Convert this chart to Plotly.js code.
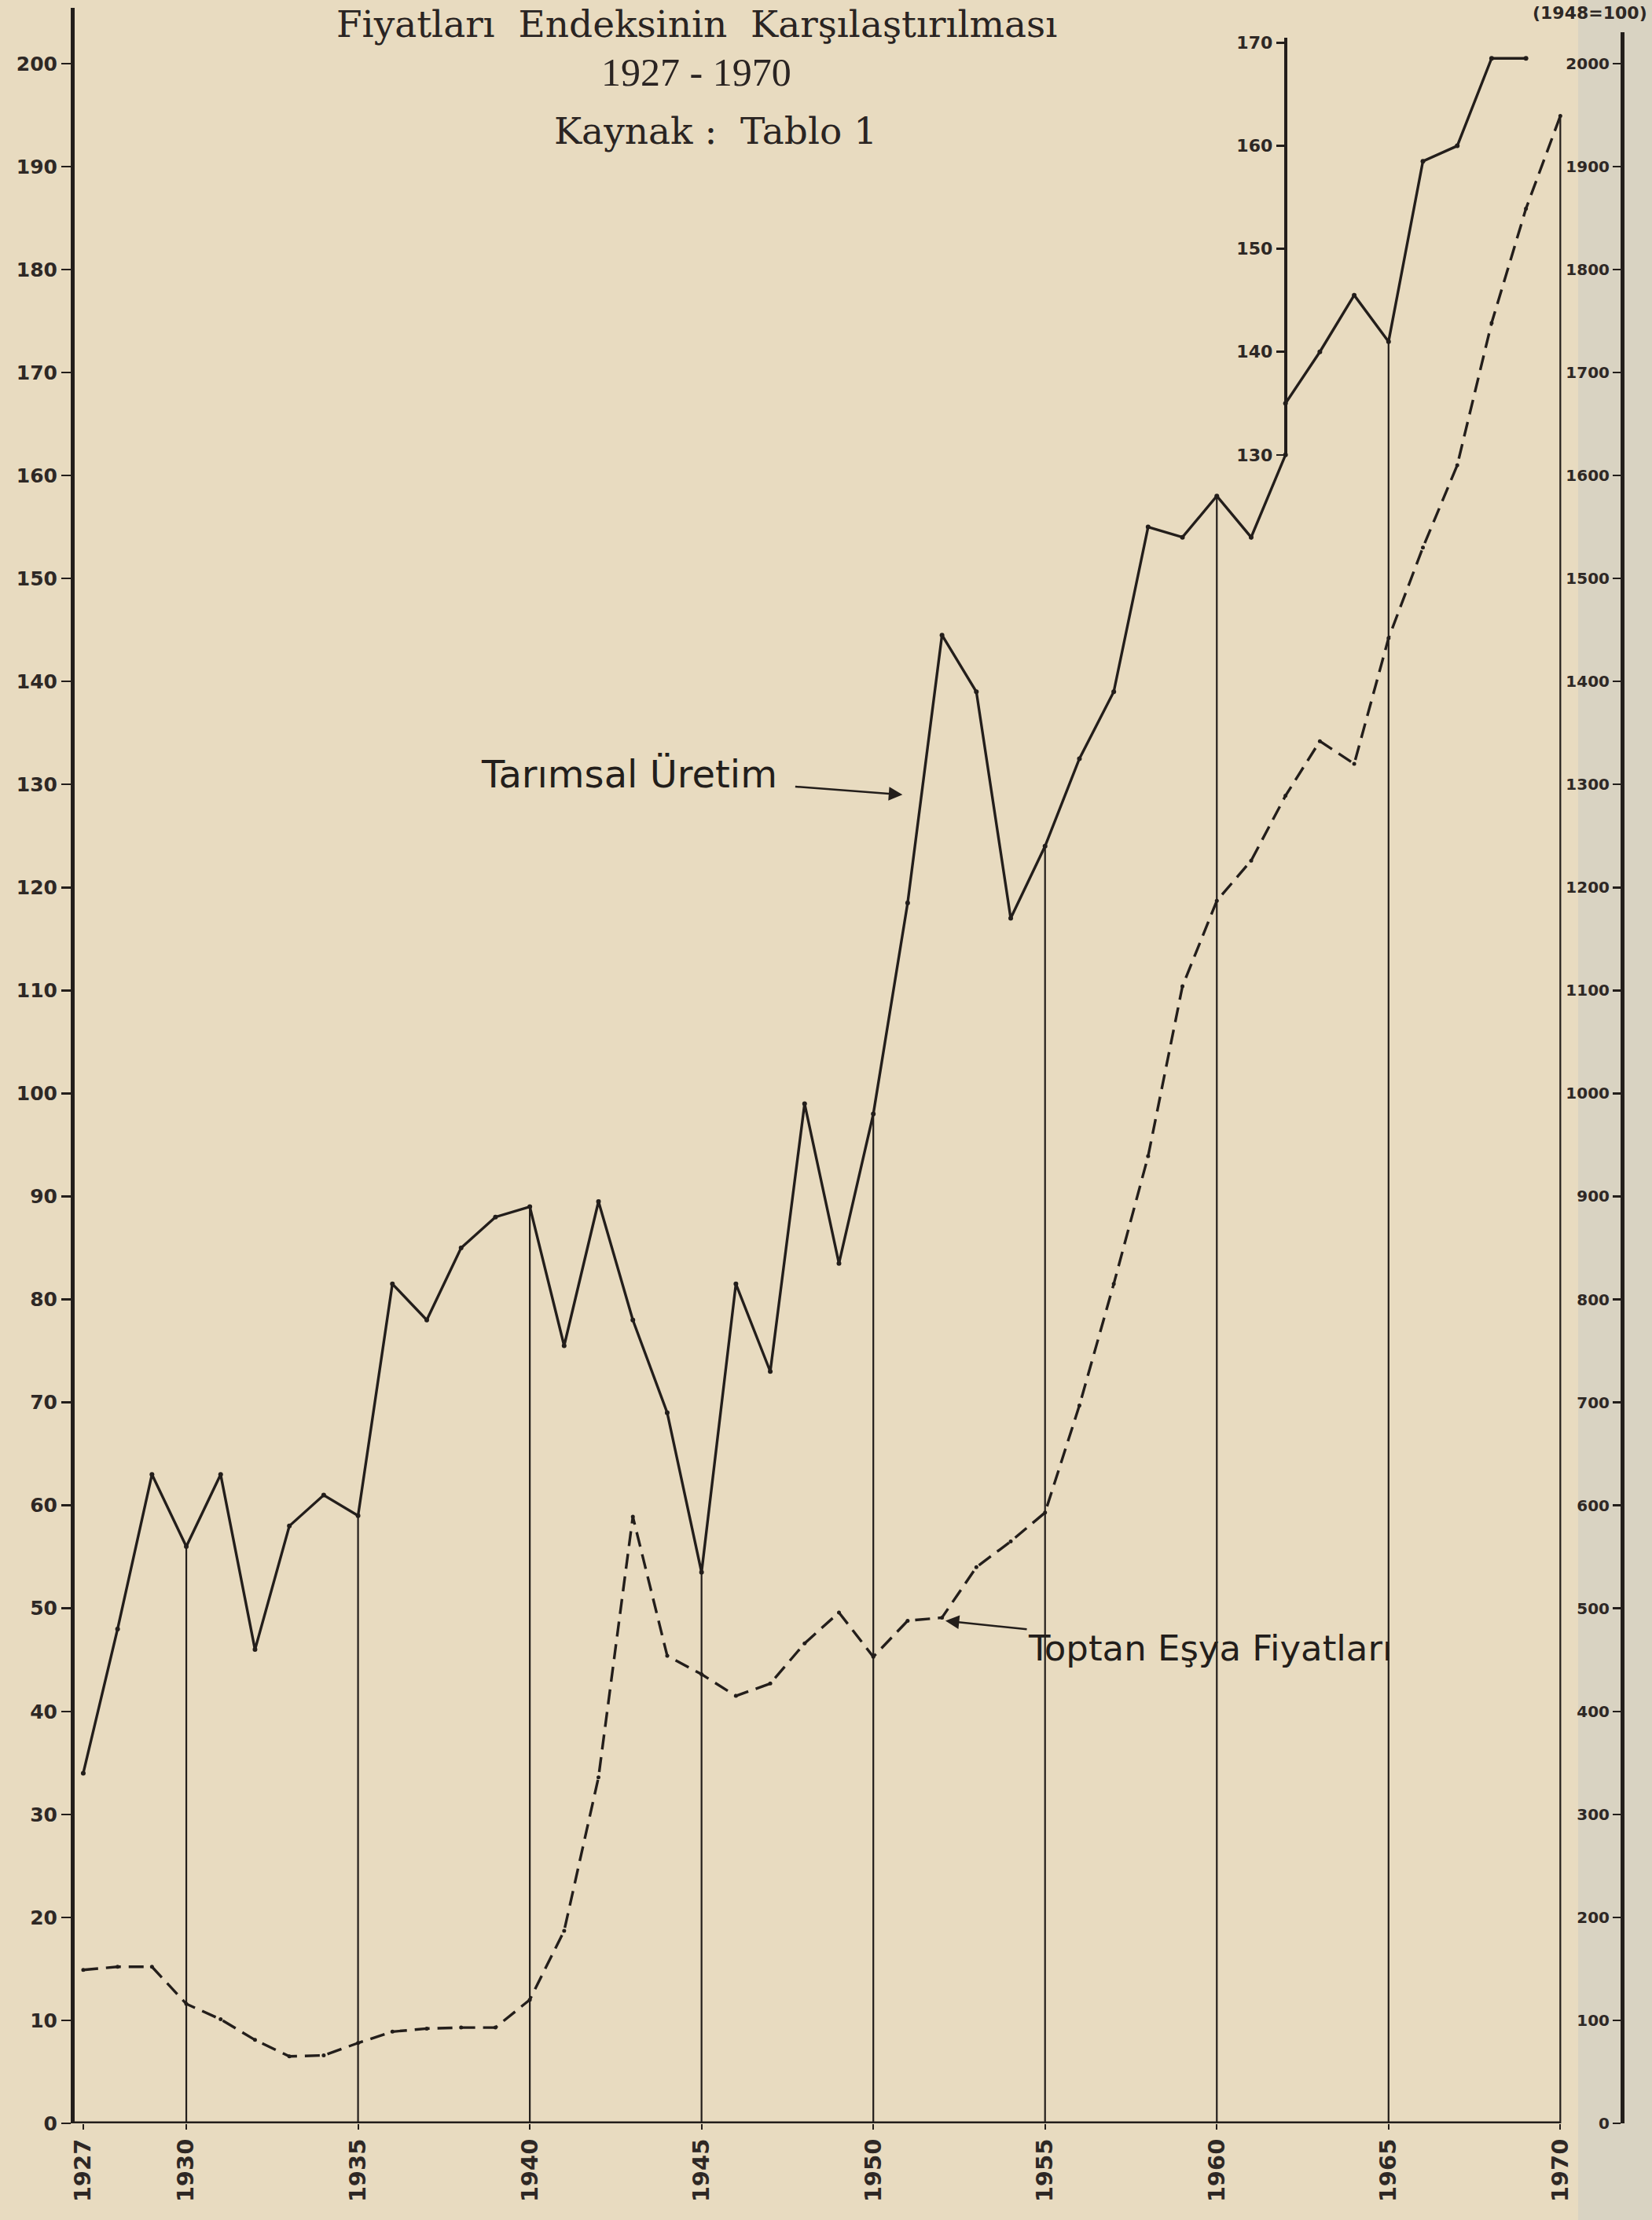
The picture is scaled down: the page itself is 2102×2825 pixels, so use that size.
<!DOCTYPE html>
<html>
<head>
<meta charset="utf-8">
<script src="https://cdn.plot.ly/plotly-3.0.1.min.js"></script>
<style>
html,body{margin:0;padding:0;background:#e8dbc0;}
#chart{width:2102px;height:2825px;}
</style>
</head>
<body>
<div id="chart"></div>
<script>
// ---------------- DATA ----------------
// Tarımsal Üretim (left axis), 1927-1962
const tarimYears = [1927,1928,1929,1930,1931,1932,1933,1934,1935,1936,1937,1938,1939,1940,1941,1942,1943,1944,1945,1946,1947,1948,1949,1950,1951,1952,1953,1954,1955,1956,1957,1958,1959,1960,1961,1962];
const tarimValues = [34,48,63,56,63,46,58,61,59,81.5,78,85,88,89,75.5,89.5,78,69,53.5,81.5,73,99,83.5,98,118.5,144.5,139,117,124,132.5,139,155,154,158,154,162];
// Tarımsal Üretim continued on the inset axis (130-170), 1962-1969
const insetYears = [1962,1963,1964,1965,1966,1967,1968,1969];
const insetValues = [135,140,145.5,141,158.5,160,168.5,168.5];
// Toptan Eşya Fiyatları (right axis), 1927-1970
const toptanYears = [1927,1928,1929,1930,1931,1932,1933,1934,1935,1936,1937,1938,1939,1940,1941,1942,1943,1944,1945,1946,1947,1948,1949,1950,1951,1952,1953,1954,1955,1956,1957,1958,1959,1960,1961,1962,1963,1964,1965,1966,1967,1968,1969,1970];
const toptanValues = [149,152,152,116,101,81,65,66,78,89,92,93,93,120,187,336,589,454,436,415,427,466,496,453,488,491,540,565,593,697,815,939,1104,1187,1226,1289,1342,1320,1442,1530,1610,1748,1859,1949];
// tick labels
const xTickYears = [1927,1930,1935,1940,1945,1950,1955,1960,1965,1970];
const leftTicks = [0,10,20,30,40,50,60,70,80,90,100,110,120,130,140,150,160,170,180,190,200];
const rightTicks = [0,100,200,300,400,500,600,700,800,900,1000,1100,1200,1300,1400,1500,1600,1700,1800,1900,2000];
const insetTicks = [130,140,150,160,170];
// years with vertical reference lines
const dropYearsMain = [1930,1935,1940,1945,1950,1955,1960];
const dropYearsInset = [1965];
const dropYearsToptan = [1970];

// ---------------- LAYOUT CONSTANTS ----------------
const W = 2102, H = 2825;
const M = {l:95, r:38, t:10, b:123};
const X_RANGE = [1926.75, 1971.8];
const Y_RANGE = [0, 205.4];
const Y2_SCALE = 10;          // right axis units per left axis unit
const Y2_TOP = 2030;          // right axis line ends here
const INSET_OFFSET = 32;      // inset axis value + offset = left axis position
const INSET_TOP = 170.5;
const INK = '#231e1b';
const PAPER = '#e8dbc0';

const plotW = W - M.l - M.r, plotH = H - M.t - M.b;
const pxX = px => (px - M.l) / plotW;
const pxY = py => (H - M.b - py) / plotH;
const dY = v => (v - Y_RANGE[0]) / (Y_RANGE[1] - Y_RANGE[0]);
const xFrac = yr => (yr - X_RANGE[0]) / (X_RANGE[1] - X_RANGE[0]);

// ---------------- TRACES ----------------
function dropTrace(yearsList, srcYears, srcVals, offset, yaxis) {
  const xs = [], ys = [];
  yearsList.forEach(yr => {
    const i = srcYears.indexOf(yr);
    xs.push(yr, yr, null);
    ys.push(0, srcVals[i] + offset, null);
  });
  return {x: xs, y: ys, yaxis: yaxis, mode: 'lines', line: {color: INK, width: 2.2},
          hoverinfo: 'skip', showlegend: false};
}

const traces = [
  dropTrace(dropYearsMain, tarimYears, tarimValues, 0, 'y'),
  dropTrace(dropYearsInset, insetYears, insetValues, INSET_OFFSET, 'y'),
  dropTrace(dropYearsToptan, toptanYears, toptanValues, 0, 'y2'),
  {x: tarimYears, y: tarimValues, yaxis: 'y', mode: 'lines+markers', name: 'Tarımsal Üretim',
   line: {color: INK, width: 3.4}, marker: {color: INK, size: 6}, showlegend: false},
  {x: insetYears, y: insetValues, yaxis: 'y3', mode: 'lines+markers', name: 'Tarımsal Üretim',
   line: {color: INK, width: 3.4}, marker: {color: INK, size: 6}, showlegend: false},
  {x: toptanYears, y: toptanValues, yaxis: 'y2', mode: 'lines+markers', name: 'Toptan Eşya Fiyatları',
   line: {color: INK, width: 3.4, dash: '19px,10px'}, marker: {color: INK, size: 5}, showlegend: false}
];

// ---------------- LAYOUT ----------------
const leftFont = {family: 'DejaVu Sans', size: 25, color: '#2e2825', weight: 'bold'};
const rightFont = {family: 'DejaVu Sans', size: 20, color: '#2e2825', weight: 'bold'};
const insetFont = {family: 'DejaVu Sans', size: 22, color: '#2e2825', weight: 'bold'};
const layout = {
  width: W, height: H,
  margin: M,
  paper_bgcolor: PAPER,
  plot_bgcolor: 'rgba(0,0,0,0)',
  showlegend: false,
  xaxis: {
    range: X_RANGE, tickvals: xTickYears, ticktext: xTickYears.map(String),
    tickangle: -90, tickfont: {family: 'DejaVu Sans', size: 29, color: '#2e2825', weight: 'bold'},
    ticks: 'outside', ticklen: 7, tickwidth: 2, tickcolor: INK,
    showline: false, showgrid: false, zeroline: false
  },
  yaxis: {
    range: Y_RANGE, tickvals: leftTicks, ticktext: leftTicks.map(String),
    tickfont: leftFont, ticks: 'outside', ticklen: 12, tickwidth: 2.5, tickcolor: INK,
    showline: true, linewidth: 5, linecolor: INK, showgrid: false, zeroline: false
  },
  yaxis2: {
    domain: [0, dY(Y2_TOP / Y2_SCALE)],
    range: [0, Y2_TOP], anchor: 'free', position: 1, side: 'left',
    tickvals: rightTicks, ticktext: rightTicks.map(String),
    tickfont: rightFont, ticks: 'outside', ticklen: 10, tickwidth: 2.5, tickcolor: INK,
    showline: true, linewidth: 4.5, linecolor: INK, showgrid: false, zeroline: false
  },
  yaxis3: {
    domain: [dY(130 + INSET_OFFSET), dY(INSET_TOP + INSET_OFFSET)],
    range: [130, INSET_TOP], anchor: 'free', position: xFrac(insetYears[0]), side: 'left',
    tickvals: insetTicks, ticktext: insetTicks.map(String),
    tickfont: insetFont, ticks: 'outside', ticklen: 10, tickwidth: 2.5, tickcolor: INK,
    showline: true, linewidth: 4.5, linecolor: INK, showgrid: false, zeroline: false
  },
  shapes: [
    {type: 'rect', xref: 'paper', yref: 'paper', x0: pxX(2008), x1: 1.1, y0: -0.1, y1: 1.1,
     fillcolor: '#d9d3c2', line: {width: 0}, layer: 'below'},
    {type: 'line', xref: 'x', yref: 'y', x0: X_RANGE[0], x1: toptanYears[toptanYears.length - 1], y0: 0, y1: 0,
     line: {color: INK, width: 5}, layer: 'above'}
  ],
  annotations: [
    {text: 'Fiyatları  Endeksinin  Karşılaştırılması', xref: 'paper', yref: 'paper',
     x: pxX(886), y: pxY(31), xanchor: 'center', yanchor: 'middle', showarrow: false,
     font: {family: 'DejaVu Serif', size: 47, color: '#2a2422'}},
    {text: '1927 - 1970', xref: 'paper', yref: 'paper',
     x: pxX(886), y: pxY(92), xanchor: 'center', yanchor: 'middle', showarrow: false,
     font: {family: 'Liberation Serif', size: 50, color: '#2a2422'}},
    {text: 'Kaynak :  Tablo 1', xref: 'paper', yref: 'paper',
     x: pxX(910), y: pxY(166), xanchor: 'center', yanchor: 'middle', showarrow: false,
     font: {family: 'DejaVu Serif', size: 47, color: '#2a2422'}},
    {text: '(1948=100)', xref: 'paper', yref: 'paper',
     x: pxX(2098), y: pxY(17), xanchor: 'right', yanchor: 'middle', showarrow: false,
     font: {family: 'DejaVu Sans', size: 22, color: '#2e2825', weight: 'bold'}},
    {text: 'Tarımsal Üretim', xref: 'x', yref: 'y', x: 1950.85, y: 129,
     axref: 'x', ayref: 'y', ax: 1942.9, ay: 131,
     showarrow: true, arrowhead: 2, arrowsize: 1.4, arrowwidth: 2.5, arrowcolor: INK, borderpad: 22,
     font: {family: 'DejaVu Sans', size: 48, color: '#231e1b'}},
    {text: 'Toptan Eşya Fiyatları', xref: 'x', yref: 'y', x: 1952.1, y: 48.8,
     axref: 'x', ayref: 'y', ax: 1959.8, ay: 46.1,
     showarrow: true, arrowhead: 2, arrowsize: 1.4, arrowwidth: 2.5, arrowcolor: INK,
     font: {family: 'DejaVu Sans', size: 45, color: '#231e1b'}}
  ]
};

Plotly.newPlot('chart', traces, layout, {staticPlot: true, displayModeBar: false});
</script>
</body>
</html>
